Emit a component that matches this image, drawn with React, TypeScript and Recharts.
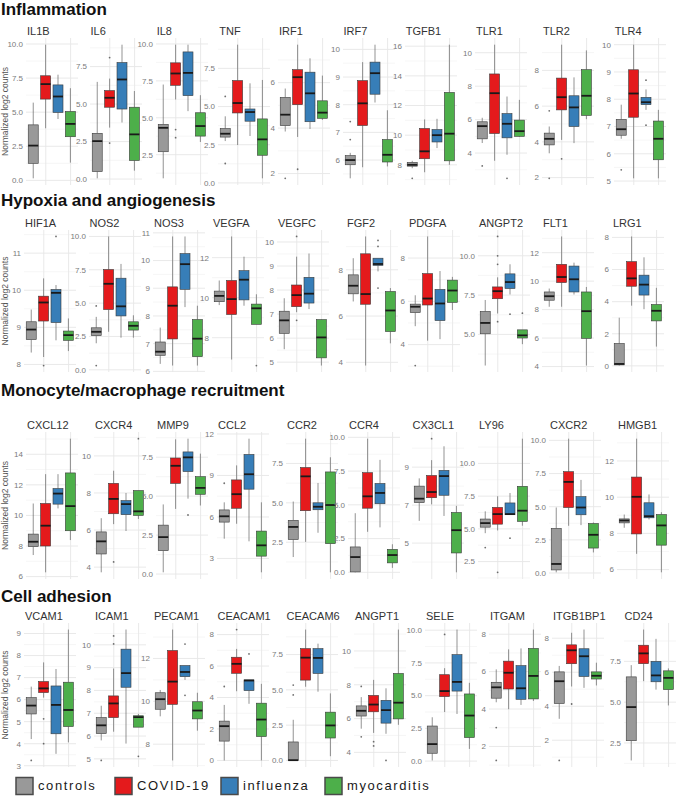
import React from "react";
import { ComposedChart, Bar, XAxis, YAxis, CartesianGrid } from "recharts";

const groups = ["controls", "COVID-19", "influenza", "myocarditis"];
const groupColors = ["#999999", "#e41a1c", "#377eb8", "#4daf4a"];

// ---------- Inflammation ----------
const inflammationGenes = ["IL1B", "IL6", "IL8", "TNF", "IRF1", "IRF7", "TGFB1", "TLR1", "TLR2", "TLR4"];
const inflammationTicks = [[0, 2.5, 5, 7.5, 10], [0, 2.5, 5, 7.5], [2.5, 5, 7.5, 10], [0, 2.5, 5, 7.5], [2, 4, 6], [6, 7, 8, 9, 10], [8, 10, 12, 14, 16], [4, 6, 8, 10], [2, 4, 6, 8], [5, 6, 7, 8, 9, 10]];
// [lower whisker, Q1, median, Q3, upper whisker]
const inflammationControls = [[0.15, 1.25, 2.55, 4.07, 5.7], [0.05, 0.5, 2.53, 3.05, 6.48], [0.9, 2.7, 4.32, 4.55, 7.25], [2.74, 3.0, 3.22, 3.56, 4.36], [3.85, 4.11, 4.59, 5.35, 5.74], [5.34, 5.83, 6.0, 6.16, 6.26], [7.77, 7.91, 8.0, 8.16, 8.27], [4.6, 4.85, 5.61, 5.87, 6.11], [3.36, 3.83, 4.17, 4.49, 4.86], [6.55, 6.68, 6.9, 7.26, 7.8]];
const inflammationCovid = [[3.82, 5.96, 7.06, 7.67, 9.95], [3.43, 4.79, 5.42, 5.9, 6.7], [6.24, 7.2, 8.0, 8.72, 9.95], [2.48, 4.58, 5.23, 6.7, 9.05], [3.61, 5.03, 6.24, 6.57, 7.67], [5.74, 7.25, 8.05, 8.87, 9.54], [7.5, 8.41, 8.91, 10.45, 11.06], [3.54, 5.17, 7.58, 8.73, 10.48], [4.11, 5.79, 6.5, 7.57, 9.44], [5.1, 7.34, 8.21, 9.08, 10.0]];
const inflammationFlu = [[4.5, 4.98, 6.15, 7.0, 7.75], [3.77, 4.67, 6.64, 7.77, 8.96], [5.45, 6.5, 8.04, 9.46, 9.95], [3.07, 4.04, 4.64, 4.84, 6.52], [3.96, 4.28, 5.53, 6.46, 7.07], [8.08, 8.38, 9.14, 9.54, 10.17], [9.13, 9.54, 10.0, 10.38, 11.1], [3.9, 4.91, 5.75, 6.36, 7.38], [3.93, 4.86, 5.93, 6.58, 7.61], [7.61, 7.8, 7.89, 8.07, 8.36]];
const inflammationMyo = [[1.3, 3.2, 4.14, 5.05, 6.76], [0.56, 1.24, 2.98, 4.79, 5.87], [3.36, 3.76, 4.44, 5.34, 6.53], [0.3, 1.81, 2.85, 4.19, 6.74], [4.36, 4.43, 4.68, 5.2, 6.31], [5.77, 5.93, 6.19, 6.74, 7.8], [8.0, 8.27, 10.1, 12.88, 16.1], [4.97, 5.0, 5.31, 5.97, 7.18], [5.27, 5.48, 6.58, 8.04, 9.12], [5.1, 5.78, 6.55, 7.2, 7.61]];
const inflammationPoints = [[[], [], [], []], [[], [8.1, 2.4], [], []], [[], [4.2, 3.65], [], []], [[5.66, 1.27], [], [], []], [[1.79], [2.19], [], []], [[7.39, 6.74], [], [], []], [[7.09], [], [], []], [[3.23], [], [2.49], []], [[5.74, 1.96], [3.05], [], []], [[5.41], [], [8.7, 7.05], []]];

// ---------- Hypoxia and angiogenesis ----------
const hypoxiaGenes = ["HIF1A", "NOS2", "NOS3", "VEGFA", "VEGFC", "FGF2", "PDGFA", "ANGPT2", "FLT1", "LRG1"];
const hypoxiaTicks = [[8, 9, 10, 11], [0, 2.5, 5, 7.5, 10], [6, 7, 8, 9, 10, 11], [8, 10, 12], [5, 6, 7, 8, 9, 10], [4, 6, 8], [4, 6, 8], [5, 7.5, 10], [4, 6, 8, 10, 12], [0, 2, 4, 6, 8]];
const hypoxiaControls = [[8.32, 8.67, 8.94, 9.15, 9.48], [1.99, 2.56, 2.85, 3.15, 3.97], [6.27, 6.58, 6.71, 7.06, 7.58], [9.63, 9.8, 10.09, 10.33, 10.86], [5.54, 6.2, 6.74, 7.12, 7.66], [6.63, 6.96, 7.31, 7.78, 8.5], [4.85, 5.48, 5.75, 5.87, 6.28], [3.02, 5.04, 5.73, 6.46, 7.19], [8.2, 8.66, 8.94, 9.24, 9.48], [0.02, 0.06, 0.12, 1.39, 3.0]];
const hypoxiaCovid = [[8.2, 9.17, 9.67, 9.84, 10.32], [2.85, 4.52, 6.45, 7.52, 10.0], [6.21, 7.17, 8.37, 9.05, 10.87], [6.91, 9.16, 9.93, 10.86, 13.06], [7.08, 7.31, 7.79, 8.21, 9.39], [3.86, 6.51, 6.95, 8.69, 9.44], [4.18, 5.83, 6.13, 7.28, 9.0], [6.33, 7.27, 7.75, 8.02, 8.63], [8.2, 9.9, 10.29, 11.18, 13.14], [3.75, 4.96, 5.45, 6.49, 8.06]];
const hypoxiaFlu = [[8.65, 9.13, 9.93, 10.02, 10.14], [2.41, 4.04, 4.76, 6.87, 7.94], [8.32, 8.96, 9.87, 10.25, 10.87], [9.6, 9.89, 10.9, 11.35, 12.05], [7.21, 7.46, 7.85, 8.53, 9.52], [7.93, 8.19, 8.25, 8.5, 8.5], [4.25, 5.11, 5.9, 6.55, 7.4], [7.54, 7.92, 8.33, 8.85, 9.46], [9.06, 9.24, 10.13, 11.06, 11.3], [3.53, 4.41, 5.06, 5.65, 6.76]];
const hypoxiaMyo = [[8.36, 8.65, 8.79, 8.9, 9.24], [2.41, 2.98, 3.3, 3.6, 4.09], [6.21, 6.53, 7.18, 7.87, 8.37], [8.67, 8.67, 9.47, 9.68, 10.17], [4.86, 5.18, 6.03, 6.77, 6.78], [4.82, 5.33, 6.24, 7.06, 7.21], [5.6, 5.95, 6.5, 6.98, 7.13], [4.38, 4.77, 4.94, 5.29, 5.29], [4.07, 5.98, 7.89, 9.24, 9.59], [1.2, 2.8, 3.43, 3.82, 4.86]];
const hypoxiaPoints = [[[], [7.97], [11.45], []], [[4.79, 0.32], [], [], []], [[], [], [], []], [[], [], [], [6.61]], [[], [10.23, 6.74], [], []], [[], [], [9.27, 9.01, 7.21], []], [[3.03], [], [], []], [[], [11.23, 10.0, 9.46, 5.81], [6.29], [6.35]], [[], [], [], []], [[], [], [], []]];

// ---------- Monocyte/macrophage recruitment ----------
const monocyteGenes = ["CXCL12", "CXCR4", "MMP9", "CCL2", "CCR2", "CCR4", "CX3CL1", "LY96", "CXCR2", "HMGB1"];
const monocyteTicks = [[6, 8, 10, 12, 14], [4, 6, 8, 10], [0, 2.5, 5, 7.5], [3, 6, 9, 12], [2.5, 5, 7.5], [0, 2.5, 5, 7.5, 10], [5, 7, 9], [2.5, 5, 7.5, 10], [0, 2.5, 5, 7.5, 10], [6, 8, 10, 12]];
const monocyteControls = [[7.41, 7.96, 8.28, 8.78, 10.78], [3.72, 4.71, 5.39, 5.9, 6.64], [0.11, 1.5, 2.37, 3.14, 4.47], [4.43, 5.63, 6.05, 6.51, 7.06], [1.56, 2.67, 3.47, 3.89, 5.08], [0, 0.03, 1.13, 1.88, 4.38], [6.17, 7.13, 7.34, 8.0, 8.41], [4.67, 5.13, 5.44, 5.75, 6.34], [0.05, 0.23, 0.68, 3.36, 4.94], [8.31, 8.58, 8.71, 8.8, 9.04]];
const monocyteCovid = [[6.28, 8.0, 9.33, 10.78, 12.7], [6.32, 6.88, 7.68, 8.52, 9.2], [4.18, 5.82, 6.95, 7.45, 8.65], [5.51, 6.63, 7.65, 8.68, 9.73], [2.52, 4.5, 6.68, 7.24, 9.07], [3.0, 4.75, 5.63, 7.38, 9.9], [7.04, 7.39, 7.69, 8.56, 9.37], [4.88, 5.36, 6.13, 6.64, 7.49], [3.56, 4.94, 6.87, 7.64, 10.13], [6.87, 7.97, 10.02, 11.11, 13.23]];
const monocyteFlu = [[10.46, 10.74, 11.43, 11.76, 12.7], [5.95, 6.83, 7.4, 7.59, 8.0], [4.84, 6.58, 7.49, 7.84, 8.69], [4.24, 8.01, 9.09, 10.52, 11.66], [3.1, 4.56, 4.75, 5.0, 6.26], [3.33, 5.08, 5.88, 6.58, 8.33], [6.43, 7.52, 8.53, 8.83, 10.1], [6.08, 6.08, 6.13, 6.98, 7.74], [3.61, 4.39, 4.94, 5.76, 7.02], [8.77, 8.86, 8.95, 9.69, 10.15]];
const monocyteMyo = [[8.39, 9.0, 10.61, 12.78, 15.02], [6.6, 6.79, 7.01, 8.13, 8.13], [4.4, 5.12, 5.53, 6.25, 7.73], [2.0, 3.17, 3.95, 4.98, 7.06], [0.59, 2.41, 4.86, 6.96, 7.89], [0.33, 0.7, 1.28, 1.7, 2.08], [3.46, 4.48, 5.68, 6.61, 6.96], [5.24, 5.57, 6.39, 8.25, 11.89], [1.55, 1.88, 2.88, 3.73, 3.81], [5.85, 7.35, 8.44, 9.04, 9.17]];
const monocytePoints = [[[], [], [], []], [[], [4.28], [], [10.93]], [[], [], [3.79], []], [[8.44], [], [], []], [[], [], [], []], [[], [], [], []], [[], [10.5], [], []], [[3.57], [1.68], [4.29], []], [[], [], [], []], [[], [], [], []]];

// ---------- Cell adhesion ----------
const adhesionGenes = ["VCAM1", "ICAM1", "PECAM1", "CEACAM1", "CEACAM6", "ANGPT1", "SELE", "ITGAM", "ITGB1BP1", "CD24"];
const adhesionTicks = [[3, 4, 5, 6, 7, 8, 9], [5, 6, 7, 8, 9, 10], [8, 10, 12], [0, 2, 4, 6, 8], [0, 2.5, 5, 7.5], [4, 6, 8, 10], [0, 2.5, 5, 7.5, 10], [2, 4, 6, 8], [2, 4, 6, 8], [2.5, 5, 7.5]];
const adhesionControls = [[4.21, 5.35, 5.73, 6.09, 6.59], [5.81, 6.11, 6.47, 6.81, 7.33], [9.3, 9.63, 10.1, 10.4, 10.53], [0, 1.23, 2.18, 2.5, 3.53], [0, 0, 0.02, 1.31, 2.88], [5.4, 6.15, 6.46, 6.75, 7.27], [0.05, 0.6, 1.3, 2.68, 3.35], [4.36, 4.58, 5.16, 5.43, 6.12], [3.26, 4.16, 5.47, 6.02, 6.37], [1.43, 2.64, 4.7, 6.55, 7.27]];
const adhesionCovid = [[6.09, 6.32, 6.51, 6.82, 7.69], [6.19, 6.81, 7.43, 7.76, 8.96], [7.24, 9.86, 10.92, 12.37, 13.35], [4.4, 5.54, 6.14, 6.56, 7.09], [5.22, 5.69, 7.28, 7.92, 9.27], [5.15, 6.4, 6.83, 7.37, 8.29], [3.75, 4.93, 5.35, 6.6, 7.1], [3.99, 5.07, 5.94, 6.56, 7.19], [5.16, 6.5, 7.29, 7.61, 8.32], [6.29, 7.36, 7.99, 8.49, 9.45]];
const adhesionFlu = [[3.54, 4.45, 5.76, 6.62, 7.39], [5.67, 8.14, 8.76, 9.81, 10.67], [11.0, 11.15, 11.37, 11.67, 11.67], [3.6, 4.44, 5.08, 5.12, 5.12], [4.87, 6.16, 7.26, 7.92, 8.27], [5.1, 5.73, 6.5, 7.08, 7.79], [3.6, 5.35, 6.05, 8.13, 10.05], [4.22, 4.52, 5.11, 6.32, 7.24], [5.08, 5.75, 6.94, 7.38, 8.51], [5.77, 6.25, 6.64, 7.5, 8.88]];
const adhesionMyo = [[4.06, 4.78, 5.53, 6.79, 9.18], [6.39, 6.39, 6.83, 6.89, 6.97], [8.63, 9.18, 9.57, 9.98, 10.4], [0, 1.52, 2.6, 3.64, 4.87], [0.3, 1.59, 2.48, 3.42, 4.75], [5.63, 5.98, 6.94, 8.67, 11.27], [0.93, 1.8, 3.48, 5.13, 5.98], [4.43, 4.54, 5.77, 7.24, 8.25], [5.22, 5.6, 5.79, 6.02, 6.56], [4.8, 5.77, 6.49, 6.92, 7.07]];
const adhesionPoints = [[[3.24], [5.13, 4.0], [], []], [[4.93], [10.39, 10.04], [], [5.11]], [[], [], [12.67, 10.28], []], [[4.7], [8.32], [6.77], []], [[4.64, 5.34], [], [], []], [[7.9, 4.92], [4.63, 4.38], [3.52], []], [[], [9.68], [], []], [[3.01, 1.25], [], [], []], [[0.81], [4.13], [], []], [[], [], [], []]];

const sectionTitles = ["Inflammation", "Hypoxia and angiogenesis", "Monocyte/macrophage recruitment", "Cell adhesion"];

// ---------- layout (pixels) ----------
const FONT = '"Liberation Sans", Arial, Helvetica, sans-serif';
const PLOT_W = 52;
const Y_AXIS_W = 30;
const PAD = 6; // extra room above/below the plot so edge tick labels are not clipped
const rowLayout = [
  { titleY: 15, panelTitleY: 35, plotTop: 38, plotBottom: 185, mids: [52, 115.5, 181.7, 244.3, 304, 368.5, 430.7, 501, 568, 639.7] },
  { titleY: 206, panelTitleY: 227, plotTop: 230, plotBottom: 372, mids: [50, 114.5, 179, 238, 303, 372, 434, 504, 568, 638] },
  { titleY: 396, panelTitleY: 429, plotTop: 432, plotBottom: 579, mids: [52, 120, 182, 243, 312, 374, 437.5, 504, 575, 643] },
  { titleY: 602, panelTitleY: 620, plotTop: 623, plotBottom: 767, mids: [50, 120, 179, 242.5, 311.5, 380, 451, 515, 578, 649.5] },
];

const sections = [
  { genes: inflammationGenes, ticks: inflammationTicks, stats: [inflammationControls, inflammationCovid, inflammationFlu, inflammationMyo], points: inflammationPoints },
  { genes: hypoxiaGenes, ticks: hypoxiaTicks, stats: [hypoxiaControls, hypoxiaCovid, hypoxiaFlu, hypoxiaMyo], points: hypoxiaPoints },
  { genes: monocyteGenes, ticks: monocyteTicks, stats: [monocyteControls, monocyteCovid, monocyteFlu, monocyteMyo], points: monocytePoints },
  { genes: adhesionGenes, ticks: adhesionTicks, stats: [adhesionControls, adhesionCovid, adhesionFlu, adhesionMyo], points: adhesionPoints },
];

function BoxShape(props: any) {
  const { x, y, width, height, payload } = props;
  if (!payload) return null;
  const [lo, q1, med, q3, hi] = payload.s as number[];
  const top = Math.min(y, y + height);
  const h = Math.abs(height);
  const py = (v: number) => (hi === lo ? top : top + ((hi - v) / (hi - lo)) * h);
  const cx = x + width / 2;
  const color = groupColors[groups.indexOf(payload.g)];
  return (
    <g>
      <line x1={cx} x2={cx} y1={py(hi)} y2={py(q3)} stroke="#4a4a4a" strokeWidth={0.6} />
      <line x1={cx} x2={cx} y1={py(q1)} y2={py(lo)} stroke="#4a4a4a" strokeWidth={0.6} />
      <rect x={x} y={py(q3)} width={width} height={Math.max(py(q1) - py(q3), 0.5)} fill={color} stroke="#3a3a3a" strokeWidth={0.6} />
      <line x1={x} x2={x + width} y1={py(med)} y2={py(med)} stroke="#1a1a1a" strokeWidth={1.8} />
      {(payload.p as number[]).map((v, i) => (
        <circle key={i} cx={cx} cy={py(v)} r={0.9} fill="#333" fillOpacity={0.7} />
      ))}
    </g>
  );
}

function Panel({ ticks, stats, points, mid, top, bottom }: any) {
  const data = groups.map((g, i) => ({ x: i + 1, g, s: stats[i], p: points[i] }));
  const all: number[] = [];
  data.forEach((d) => { all.push(...d.s, ...d.p); });
  const lo = Math.min(...all);
  const hi = Math.max(...all);
  const r = hi - lo;
  const domain: [number, number] = [lo - 0.05 * r, hi + 0.05 * r];
  const step = ticks[1] - ticks[0];
  const visTicks = ticks.filter((t: number) => t >= domain[0] - 1e-9 && t <= domain[1] + 1e-9);
  const minors: number[] = [];
  for (let v = ticks[0] - step / 2; v <= domain[1]; v += step) {
    if (v >= domain[0]) minors.push(v);
  }
  const decimals = ticks.some((t: number) => !Number.isInteger(t));
  const fmt = (v: number) => (decimals ? v.toFixed(1) : String(v));
  const height = bottom - top;
  return (
    <div style={{ position: "absolute", left: mid - PLOT_W / 2 - Y_AXIS_W, top: top - PAD }}>
      <ComposedChart width={Y_AXIS_W + PLOT_W} height={height + 2 * PAD} data={data} margin={{ top: PAD, right: 0, bottom: PAD, left: 0 }}>
        <CartesianGrid stroke="#f2f2f2" strokeWidth={0.7} vertical={false} horizontalValues={minors} />
        <CartesianGrid stroke="#e6e6e6" strokeWidth={0.9} horizontalValues={visTicks} verticalValues={[1, 2, 3, 4]} />
        <XAxis dataKey="x" type="number" domain={[0.4, 4.6]} ticks={[1, 2, 3, 4]} allowDataOverflow hide />
        <YAxis
          type="number"
          domain={domain}
          allowDataOverflow
          ticks={visTicks}
          interval={0}
          width={Y_AXIS_W}
          tickSize={0}
          tickMargin={3}
          axisLine={false}
          tickLine={false}
          tick={{ fontSize: 8, fill: "#7a7a7a", fontFamily: FONT }}
          tickFormatter={fmt}
        />
        <Bar dataKey={(d: any) => [d.s[0], d.s[4]]} barSize={10} shape={BoxShape} isAnimationActive={false} />
      </ComposedChart>
    </div>
  );
}

const legendX = [16, 115, 221, 325];

export default function App() {
  return (
    <div style={{ position: "absolute", left: 0, top: 0, width: 676, height: 796, background: "#fff", fontFamily: FONT, overflow: "hidden" }}>
      <svg width={676} height={796} style={{ position: "absolute", left: 0, top: 0 }}>
        {rowLayout.map((row, ri) => (
          <g key={ri}>
            <text x={1} y={row.titleY} fontSize={17} fontWeight="bold" fill="#111" fontFamily={FONT}>{sectionTitles[ri]}</text>
            {sections[ri].genes.map((gname, gi) => (
              <text key={gname} x={row.mids[gi] - PLOT_W / 2 + 1} y={row.panelTitleY} fontSize={11} fill="#333" fontFamily={FONT}>{gname}</text>
            ))}
            <text
              transform={`translate(8, ${(row.plotTop + row.plotBottom) / 2}) rotate(-90)`}
              textAnchor="middle"
              fontSize={8.5}
              fill="#555"
              fontFamily={FONT}
            >
              Normalized log2 counts
            </text>
          </g>
        ))}
        {groups.map((g, i) => (
          <g key={g}>
            <rect x={legendX[i]} y={777.5} width={17} height={17} fill={groupColors[i]} stroke="#4a4a4a" strokeWidth={1.5} />
            <text x={legendX[i] + 22} y={790} fontSize={13} letterSpacing={1.6} fill="#1a1a1a" fontFamily={FONT}>{g}</text>
          </g>
        ))}
      </svg>
      {sections.map((sec, ri) =>
        sec.genes.map((gname, gi) => (
          <Panel
            key={gname}
            ticks={sec.ticks[gi]}
            stats={[sec.stats[0][gi], sec.stats[1][gi], sec.stats[2][gi], sec.stats[3][gi]]}
            points={sec.points[gi]}
            mid={rowLayout[ri].mids[gi]}
            top={rowLayout[ri].plotTop}
            bottom={rowLayout[ri].plotBottom}
          />
        ))
      )}
    </div>
  );
}
